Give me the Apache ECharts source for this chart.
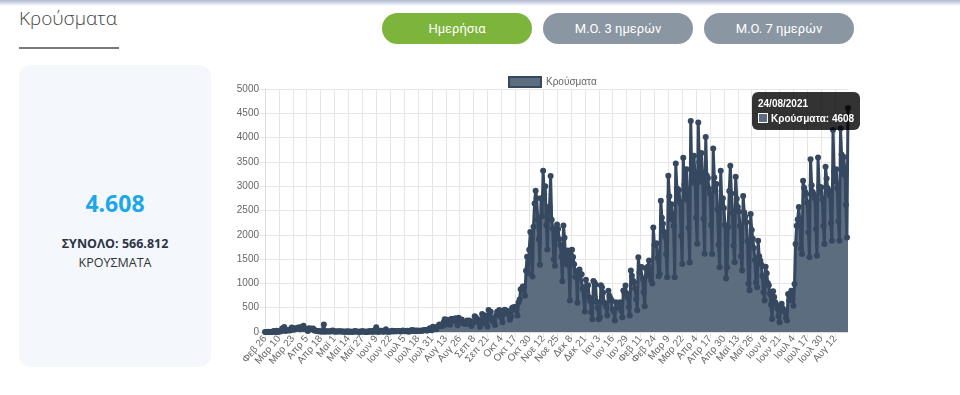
<!DOCTYPE html>
<html><head><meta charset="utf-8">
<script src="https://cdn.jsdelivr.net/npm/echarts/dist/echarts.min.js"></script>
<style>
html,body{margin:0;padding:0;width:960px;height:395px;overflow:hidden;background:#fff;font-family:'Open Sans',sans-serif;}
#topbar{position:absolute;left:0;top:0;width:960px;height:6px;background:linear-gradient(#aeb8d2,rgba(255,255,255,0));}
#title{position:absolute;left:19px;top:5px;font-size:19px;font-weight:300;color:#444;line-height:26px;}
#uline{position:absolute;left:19px;top:47px;width:100px;height:2px;background:#7a7a7a;}
.btn{position:absolute;top:13px;width:150px;height:31px;border-radius:16px;color:#fff;font-family:Roboto,sans-serif;font-size:13px;line-height:31px;text-align:center;}
#card{position:absolute;left:19px;top:65px;width:192px;height:302px;background:#f4f7fc;border-radius:12px;}
.ct{position:absolute;left:19px;width:192px;text-align:center;}
#chart{position:absolute;left:0;top:0;width:960px;height:395px;z-index:2;}
</style></head>
<body>
<div id="topbar"></div>
<div id="title">Κρούσματα</div>
<div id="uline"></div>
<div class="btn" style="left:382px;background:#7db43b;">Ημερήσια</div>
<div class="btn" style="left:543px;background:#8b96a3;">Μ.Ο. 3 ημερών</div>
<div class="btn" style="left:704px;background:#8b96a3;">Μ.Ο. 7 ημερών</div>
<div id="card"></div>
<div class="ct" style="top:188px;font-size:23px;font-weight:700;color:#1ea6ea;line-height:30px;">4.608</div>
<div class="ct" style="top:235px;font-size:12.5px;font-weight:700;color:#2c3446;line-height:18px;">ΣΥΝΟΛΟ: 566.812</div>
<div class="ct" style="top:254px;font-size:12.5px;color:#333;line-height:18px;">ΚΡΟΥΣΜΑΤΑ</div>
<div id="chart"></div>
<script>
// Daily cases, 26 Feb 2020 -> 24 Aug 2021 (one array per month)
const feb2020 = [1, 2, 1, 3];
const mar2020 = [0, 0, 0, 2, 22, 14, 1, 27, 0, 16, 10, 18, 73, 38, 103, 21, 35, 31, 46, 31, 35, 94, 71, 48, 78, 71, 74, 95, 95, 56, 102];
const apr2020 = [101, 129, 69, 60, 62, 20, 77, 52, 71, 56, 70, 33, 31, 25, 22, 15, 17, 11, 10, 12, 156, 7, 15, 11, 15, 12, 10, 13, 31, 25];
const may2020 = [7, 9, 12, 8, 13, 10, 15, 8, 6, 10, 3, 4, 16, 4, 10, 7, 5, 5, 6, 21, 12, 8, 4, 3, 2, 18, 10, 16, 4, 0, 12];
const jun2020 = [1, 8, 19, 6, 18, 6, 33, 4, 97, 8, 6, 4, 24, 24, 3, 9, 10, 55, 12, 4, 5, 14, 12, 24, 12, 23, 17, 17, 14, 23];
const jul2020 = [14, 12, 13, 29, 23, 13, 21, 25, 6, 18, 15, 43, 19, 34, 25, 14, 30, 26, 28, 22, 29, 27, 32, 41, 41, 31, 32, 44, 75, 46, 35];
const aug2020 = [110, 66, 74, 57, 110, 124, 153, 121, 151, 126, 203, 262, 156, 254, 230, 217, 150, 269, 268, 235, 233, 284, 205, 139, 293, 250, 243, 258, 180, 177, 169];
const sep2020 = [168, 239, 175, 236, 201, 124, 181, 202, 323, 301, 221, 261, 199, 106, 196, 372, 339, 181, 339, 308, 114, 453, 319, 418, 263, 218, 268, 143, 338, 416];
const oct2020 = [390, 454, 337, 294, 203, 372, 459, 442, 396, 432, 350, 250, 317, 494, 508, 460, 522, 501, 340, 606, 667, 882, 865, 935, 929, 744, 1259, 1547, 1211, 1690, 2056];
const nov2020 = [1526, 1140, 2166, 2646, 2905, 2752, 2311, 1914, 1384, 2752, 2384, 3316, 2835, 2998, 2198, 1695, 2508, 2581, 3209, 2311, 2130, 1498, 1365, 2044, 2213, 2120, 1910, 1790, 1550, 1044];
const dec2020 = [2190, 1941, 1500, 1395, 1677, 1366, 647, 1677, 1690, 1543, 1392, 1138, 1247, 601, 1260, 1285, 1189, 1190, 883, 919, 422, 1075, 886, 961, 715, 640, 406, 262, 1047, 1020, 975];
const jan2021 = [620, 494, 262, 305, 964, 920, 806, 602, 580, 508, 339, 850, 747, 691, 655, 470, 420, 236, 612, 586, 502, 536, 612, 442, 306, 855, 812, 955, 793, 710, 514];
const feb2021 = [337, 1263, 1155, 1054, 1024, 896, 674, 450, 1536, 1226, 1332, 1339, 1094, 824, 529, 1313, 1153, 1346, 1470, 1233, 1058, 1000, 2152, 1790, 1790, 1824, 1524, 1146];
const mar2021 = [1195, 2702, 2353, 2229, 2056, 1960, 1601, 1126, 3215, 2795, 2322, 2630, 2415, 2182, 1126, 3465, 2957, 2750, 2922, 2655, 1982, 1400, 3586, 3035, 2730, 3350, 2823, 2145, 1430, 4340, 3111];
const apr2021 = [3069, 3624, 3226, 2358, 1815, 4311, 3500, 3093, 3681, 3276, 2328, 1610, 4014, 3219, 3162, 2950, 2844, 2200, 1605, 3775, 3180, 2904, 3044, 2528, 1796, 1330, 3316, 2670, 2751, 2550];
const may2021 = [2200, 1100, 1330, 2162, 2900, 3420, 2850, 2450, 1780, 1433, 3193, 2740, 2570, 2480, 2180, 1560, 1263, 2800, 2460, 2372, 2260, 1870, 1000, 860, 2427, 2100, 1920, 1730, 1480, 1020, 920];
const jun2021 = [1879, 1560, 1470, 1390, 1150, 820, 647, 1345, 1210, 1010, 960, 780, 560, 270, 838, 720, 610, 560, 480, 330, 200, 524, 580, 490, 440, 410, 290, 236, 784, 650];
const jul2021 = [760, 850, 690, 540, 990, 1811, 2185, 2313, 2574, 2279, 1713, 1605, 3110, 2970, 2880, 2840, 2660, 2050, 1536, 3556, 3020, 2880, 2830, 2750, 2120, 1570, 3589, 2990, 2860, 2980, 2730];
const aug2021 = [2180, 1811, 3398, 3160, 2960, 2900, 2810, 2240, 1880, 4158, 3300, 3100, 3350, 2960, 2280, 1880, 4185, 3650, 3240, 3600, 3350, 2620, 1947, 4608];

const monthNames = ['Ιαν','Φεβ','Μαρ','Απρ','Μαϊ','Ιουν','Ιουλ','Αυγ','Σεπ','Οκτ','Νοε','Δεκ'];
const seriesName = 'Κρούσματα';
const startDate = [2020, 1, 26];
const yTicks = {min: 0, max: 5000, step: 500};

const values = [].concat(feb2020, mar2020, apr2020, may2020, jun2020, jul2020, aug2020, sep2020, oct2020, nov2020, dec2020,
  jan2021, feb2021, mar2021, apr2021, may2021, jun2021, jul2021, aug2021);

const dates = [], labels = [];
for (let i = 0; i < values.length; i++) {
  const d = new Date(Date.UTC(startDate[0], startDate[1], startDate[2] + i));
  const dd = d.getUTCDate(), mm = d.getUTCMonth(), yy = d.getUTCFullYear();
  dates.push((dd < 10 ? '0' : '') + dd + '/' + (mm < 9 ? '0' : '') + (mm + 1) + '/' + yy);
  labels.push(monthNames[mm] + ' ' + dd);
}

const FONT = "'Liberation Sans', Arial, sans-serif";
const gridColor = '#e6e6e6';
const chart = echarts.init(document.getElementById('chart'), null, {renderer: 'canvas'});
chart.setOption({
  animation: false,
  backgroundColor: 'transparent',
  textStyle: {fontFamily: FONT},
  legend: {
    data: [{name: seriesName, icon: 'rect', itemStyle: {color: '#5d6d80', borderColor: '#35485f', borderWidth: 2}}],
    left: 503, top: 71, itemWidth: 32, itemHeight: 10,
    textStyle: {color: '#666', fontSize: 10, fontFamily: FONT},
    selectedMode: false
  },
  grid: {left: 265, right: 112, top: 89, bottom: 63},
  tooltip: {
    trigger: 'item', triggerOn: 'none', alwaysShowContent: true,
    transitionDuration: 0,
    backgroundColor: 'rgba(0,0,0,0.8)', borderWidth: 0, padding: [5, 6],
    extraCssText: 'border-radius:6px;box-shadow:none;',
    textStyle: {color: '#fff', fontSize: 10, fontFamily: FONT},
    position: function () { return [752, 92]; },
    formatter: function (p) {
      return '<div style="font-weight:bold;line-height:13px;margin-bottom:2px;">' + dates[p.dataIndex] + '</div>' +
        '<div style="font-weight:bold;line-height:13px;"><span style="display:inline-block;width:8px;height:8px;background:#5d6d80;border:1px solid #fff;margin-right:3px;vertical-align:-1px;"></span>' +
        seriesName + ': ' + p.value + '</div>';
    }
  },
  xAxis: {
    type: 'category', data: dates, boundaryGap: false,
    axisLine: {lineStyle: {color: '#dcdcdc'}},
    axisTick: {show: true, interval: 12, length: 6, lineStyle: {color: gridColor}},
    splitLine: {show: true, interval: 12, lineStyle: {color: gridColor}},
    axisLabel: {interval: 12, rotate: 50, fontSize: 10, color: '#666', margin: 5, fontFamily: FONT,
      formatter: function (v, idx) { return labels[idx]; }}
  },
  yAxis: {
    type: 'value', min: yTicks.min, max: yTicks.max, interval: yTicks.step,
    axisLine: {show: true, lineStyle: {color: '#dcdcdc'}},
    axisTick: {show: true, length: 6, lineStyle: {color: gridColor}},
    splitLine: {lineStyle: {color: gridColor}},
    axisLabel: {fontSize: 10, color: '#666', margin: 6, fontFamily: FONT,
      formatter: function (v) { return String(v); }}
  },
  series: [{
    type: 'line', name: seriesName, data: values,
    symbol: 'circle', symbolSize: 6, showAllSymbol: true, smooth: false,
    lineStyle: {color: '#35485f', width: 3},
    itemStyle: {color: '#35485f'},
    areaStyle: {color: '#5d6d80', opacity: 1},
    emphasis: {disabled: true}
  }]
});
chart.dispatchAction({type: 'showTip', seriesIndex: 0, dataIndex: values.length - 1});
</script>
</body></html>
